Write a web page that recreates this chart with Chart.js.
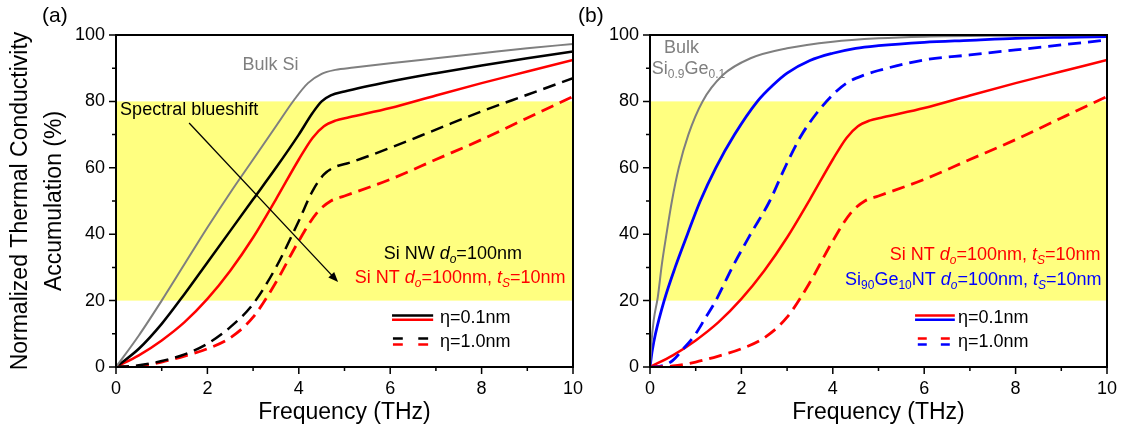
<!DOCTYPE html>
<html>
<head>
<meta charset="utf-8">
<script src="https://cdn.jsdelivr.net/npm/chart.js@4.4.0/dist/chart.umd.min.js"></script>
<style>
  body { margin: 0; background: #fff; width: 1131px; height: 431px; overflow: hidden; position: relative; }
  .panel { position: absolute; left: 0; top: 0; width: 1131px; height: 431px; }
</style>
</head>
<body>
<div class="panel"><canvas id="panelA"></canvas></div>
<div class="panel"><canvas id="panelB"></canvas></div>
<script>
// frequency (THz) / accumulated thermal conductivity (%)
const bulkSiFreq = [0, 0.5, 1, 1.5, 2, 2.5, 3, 3.5, 3.9, 4.2, 4.5, 4.8, 5.2, 6, 7, 8, 9, 10];
const bulkSiAcc  = [0, 9.5, 20, 31, 42, 52.5, 62.5, 72.5, 80.5, 85.5, 88.3, 89.5, 90.2, 91.5, 93, 94.5, 96, 97.3];

const nwFineFreq = [0, 0.5, 1, 1.5, 2, 2.5, 3, 3.5, 4, 4.3, 4.5, 4.7, 5, 6, 7, 8, 9, 10];
const nwFineAcc  = [0, 5.5, 13, 22, 31.5, 41, 50.5, 60, 70, 76.5, 80, 81.8, 83, 86, 88.5, 90.8, 93, 95];

const ntFineFreq = [0, 0.5, 1, 1.5, 2, 2.5, 3, 3.5, 4, 4.3, 4.55, 4.8, 5.1, 6, 7, 8, 9, 10];
const ntFineAcc  = [0, 3.5, 8, 13.5, 20.5, 29, 39, 50.5, 62.5, 69, 72.5, 74.2, 75.2, 78, 81.8, 85.5, 89, 92.5];

const nwRoughFreq = [0, 0.5, 1, 1.5, 2, 2.5, 3, 3.5, 4, 4.3, 4.55, 4.8, 5.1, 6, 7, 8, 9, 10];
const nwRoughAcc  = [0, 0.5, 1.8, 3.8, 7, 12, 19, 30, 44, 53, 58, 60.3, 61.5, 66, 71.5, 77, 82, 87];

const ntRoughFreq = [0, 0.5, 1, 1.5, 2, 2.5, 3, 3.5, 4, 4.4, 4.7, 5, 6, 7, 8, 9, 10];
const ntRoughAcc  = [0, 0.3, 1.5, 3.3, 5.5, 8.8, 15, 25.5, 38, 46.5, 50, 51.5, 56.5, 62.5, 68.5, 75, 81.5];

const bulkSiGeFreq = [0, 0.03, 0.08, 0.17, 0.26, 0.36, 0.48, 0.63, 0.84, 1.15, 1.6, 2.2, 3, 4, 5, 6, 8, 10];
const bulkSiGeAcc  = [0, 7, 14, 21, 31, 40, 50, 60, 70, 80, 88, 93, 96, 98, 99, 99.5, 99.8, 100];

const sigeFineFreq = [0, 0.05, 0.12, 0.31, 0.55, 0.82, 1.1, 1.44, 1.85, 2.35, 2.7, 3, 3.5, 4, 4.5, 5, 6, 7, 8, 9, 10];
const sigeFineAcc  = [0, 5, 10, 20, 30, 40, 50, 60, 70, 80, 85, 88.5, 92.3, 94.5, 96, 96.8, 97.8, 98.4, 99, 99.3, 99.5];

const sigeRoughFreq = [0, 0.3, 0.5, 0.7, 1, 1.2, 1.44, 1.8, 2.2, 2.62, 2.95, 3.3, 3.65, 4, 4.3, 4.7, 5, 6, 7, 8, 9, 10];
const sigeRoughAcc  = [0, 0.5, 2, 5, 10, 14.5, 20, 30, 40, 50, 60, 69.5, 76.5, 82, 85.5, 88, 89.3, 92.5, 94, 95.5, 97, 98.5];

const freqTicks = [0, 2, 4, 6, 8, 10];
const accTicks = [0, 20, 40, 60, 80, 100];
const bandLow = 20, bandHigh = 80;

const RED = '#ff0000', BLUE = '#0000ff', GRAY = '#7f7f7f', BLACK = '#000000';
const FONT = "'Liberation Sans', Arial, sans-serif";
Chart.defaults.font.family = FONT;
Chart.defaults.color = BLACK;

function pts(f, a) {
  return f.map((x, i) => ({ x: x, y: a[i] }));
}

function curve(f, a, color, width, dash) {
  return {
    data: pts(f, a),
    borderColor: color,
    borderWidth: width,
    borderDash: dash || [],
    pointRadius: 0,
    fill: false,
    cubicInterpolationMode: 'monotone'
  };
}

// draws a line of text made of plain / italic / subscript pieces
function drawRich(ctx, x, y, parts, align, color, size) {
  const pieces = parts.map(p => {
    const st = p[1] || '';
    const sub = st.indexOf('s') >= 0;
    const fs = sub ? Math.round(size * 0.66) : size;
    const font = (st.indexOf('i') >= 0 ? 'italic ' : '') + fs + 'px ' + FONT;
    ctx.font = font;
    return { text: p[0], font: font, dy: sub ? size * 0.3 : 0, w: ctx.measureText(p[0]).width };
  });
  const total = pieces.reduce((s, p) => s + p.w, 0);
  let cx = align === 'left' ? x : align === 'right' ? x - total : x - total / 2;
  ctx.fillStyle = color;
  ctx.textAlign = 'left';
  ctx.textBaseline = 'middle';
  pieces.forEach(p => {
    ctx.font = p.font;
    ctx.fillText(p.text, cx, y + p.dy);
    cx += p.w;
  });
}

const decor = {
  id: 'decor',
  beforeDatasetsDraw(chart, args, opts) {
    const { ctx, chartArea: a, scales: { y } } = chart;
    const top = y.getPixelForValue(bandHigh), bot = y.getPixelForValue(bandLow);
    ctx.save();
    ctx.fillStyle = '#ffff80';
    ctx.fillRect(a.left, top, a.right - a.left, bot - top);
    ctx.restore();
  },
  afterDatasetsDraw(chart, args, opts) {
    const { ctx, chartArea: a, scales: { x, y } } = chart;
    ctx.save();
    // frame
    ctx.strokeStyle = BLACK;
    ctx.lineWidth = 2;
    ctx.strokeRect(a.left, a.top, a.right - a.left, a.bottom - a.top);
    // outward ticks, majors labelled, minors in between
    ctx.lineWidth = 1.5;
    ctx.beginPath();
    for (let v = 0; v <= 10; v++) {
      const px = x.getPixelForValue(v);
      ctx.moveTo(px, a.bottom);
      ctx.lineTo(px, a.bottom + (v % 2 === 0 ? 7 : 4));
    }
    for (let v = 0; v <= 100; v += 10) {
      const py = y.getPixelForValue(v);
      ctx.moveTo(a.left, py);
      ctx.lineTo(a.left - (v % 20 === 0 ? 7 : 4), py);
    }
    ctx.stroke();

    // legend keys
    opts.keys.forEach(k => {
      const x0 = x.getPixelForValue(k.x0), x1 = x.getPixelForValue(k.x1);
      const py = y.getPixelForValue(k.y);
      const len = x1 - x0;
      ctx.strokeStyle = k.color;
      ctx.lineWidth = 2.5;
      ctx.setLineDash(k.dash ? [len * 0.28, len * 0.44] : []);
      ctx.beginPath();
      ctx.moveTo(x0, py);
      ctx.lineTo(x1, py);
      ctx.stroke();
    });
    ctx.setLineDash([]);

    // arrow
    if (opts.arrow) {
      const r = opts.arrow;
      const ax = x.getPixelForValue(r.x0), ay = y.getPixelForValue(r.y0);
      const bx = x.getPixelForValue(r.x1), by = y.getPixelForValue(r.y1);
      const ang = Math.atan2(by - ay, bx - ax);
      ctx.strokeStyle = BLACK;
      ctx.fillStyle = BLACK;
      ctx.lineWidth = 1.3;
      ctx.beginPath();
      ctx.moveTo(ax, ay);
      ctx.lineTo(bx - 6 * Math.cos(ang), by - 6 * Math.sin(ang));
      ctx.stroke();
      ctx.beginPath();
      ctx.moveTo(bx, by);
      ctx.lineTo(bx - 10 * Math.cos(ang) + 4 * Math.sin(ang), by - 10 * Math.sin(ang) - 4 * Math.cos(ang));
      ctx.lineTo(bx - 10 * Math.cos(ang) - 4 * Math.sin(ang), by - 10 * Math.sin(ang) + 4 * Math.cos(ang));
      ctx.closePath();
      ctx.fill();
    }

    // text notes
    opts.notes.forEach(n => {
      drawRich(ctx, x.getPixelForValue(n.x), y.getPixelForValue(n.y), n.parts, n.align, n.color, 18);
    });

    // panel letter
    ctx.font = '21px ' + FONT;
    ctx.fillStyle = BLACK;
    ctx.textAlign = 'left';
    ctx.textBaseline = 'middle';
    ctx.fillText(opts.letter, opts.letterX, 16);
    ctx.restore();
  }
};

function axes(yWidth, yTitle) {
  return {
    x: {
      type: 'linear', min: 0, max: 10,
      afterBuildTicks: s => { s.ticks = freqTicks.map(v => ({ value: v })); },
      afterFit: s => { s.height = 64; },
      ticks: { font: { size: 18 }, color: BLACK, padding: 4, maxRotation: 0 },
      grid: { drawOnChartArea: false, tickLength: 7, tickColor: 'rgba(0,0,0,0)', color: 'rgba(0,0,0,0)' },
      border: { display: false },
      title: { display: true, text: 'Frequency (THz)', color: BLACK, font: { size: 23 }, padding: { top: 0, bottom: 5 } }
    },
    y: {
      type: 'linear', min: 0, max: 100,
      afterBuildTicks: s => { s.ticks = accTicks.map(v => ({ value: v })); },
      afterFit: s => { s.width = yWidth; },
      ticks: { font: { size: 18 }, color: BLACK, padding: 4 },
      grid: { drawOnChartArea: false, tickLength: 7, tickColor: 'rgba(0,0,0,0)', color: 'rgba(0,0,0,0)' },
      border: { display: false },
      title: yTitle ? { display: true, text: yTitle, color: BLACK, font: { size: 23, lineHeight: 1.5 }, padding: { top: 3 } } : { display: false }
    }
  };
}

const DASH = [13, 7];

new Chart(document.getElementById('panelA'), {
  type: 'line',
  data: {
    datasets: [
      curve(bulkSiFreq, bulkSiAcc, GRAY, 2),
      curve(nwRoughFreq, nwRoughAcc, BLACK, 2.5, DASH),
      curve(ntRoughFreq, ntRoughAcc, RED, 2.8, DASH),
      curve(nwFineFreq, nwFineAcc, BLACK, 2.5),
      curve(ntFineFreq, ntFineAcc, RED, 2.5)
    ]
  },
  options: {
    responsive: true, maintainAspectRatio: false, animation: false, devicePixelRatio: 1,
    layout: { padding: { left: 0, right: 558, top: 35, bottom: 0 } },
    scales: axes(116, ['Normalized Thermal Conductivity', 'Accumulation (%)']),
    plugins: {
      legend: { display: false }, tooltip: { enabled: false },
      decor: {
        letter: '(a)', letterX: 42,
        arrow: { x0: 1.6, y0: 73.5, x1: 4.86, y1: 25.6 },
        keys: [
          { x0: 6.04, x1: 6.94, y: 15.5, color: BLACK },
          { x0: 6.04, x1: 6.94, y: 14.2, color: RED },
          { x0: 6.06, x1: 6.83, y: 8.6, color: BLACK, dash: true },
          { x0: 6.06, x1: 6.83, y: 6.8, color: RED, dash: true }
        ],
        notes: [
          { x: 3.38, y: 91.1, align: 'center', color: GRAY, parts: [['Bulk Si']] },
          { x: 0.09, y: 77.3, align: 'left', color: BLACK, parts: [['Spectral blueshift']] },
          { x: 7.37, y: 34.1, align: 'center', color: BLACK, parts: [['Si NW '], ['d', 'i'], ['o', 'is'], ['=100nm']] },
          { x: 7.53, y: 26.8, align: 'center', color: RED, parts: [['Si NT '], ['d', 'i'], ['o', 'is'], ['=100nm, '], ['t', 'i'], ['S', 'is'], ['=10nm']] },
          { x: 7.09, y: 14.8, align: 'left', color: BLACK, parts: [['\u03b7=0.1nm']] },
          { x: 7.09, y: 7.6, align: 'left', color: BLACK, parts: [['\u03b7=1.0nm']] }
        ]
      }
    }
  },
  plugins: [decor]
});

new Chart(document.getElementById('panelB'), {
  type: 'line',
  data: {
    datasets: [
      curve(bulkSiGeFreq, bulkSiGeAcc, GRAY, 2),
      curve(ntRoughFreq, ntRoughAcc, RED, 2.8, DASH),
      curve(sigeRoughFreq, sigeRoughAcc, BLUE, 2.8, DASH),
      curve(ntFineFreq, ntFineAcc, RED, 2.5),
      curve(sigeFineFreq, sigeFineAcc, BLUE, 2.8)
    ]
  },
  options: {
    responsive: true, maintainAspectRatio: false, animation: false, devicePixelRatio: 1,
    layout: { padding: { left: 576, right: 24, top: 35, bottom: 0 } },
    scales: axes(74, null),
    plugins: {
      legend: { display: false }, tooltip: { enabled: false },
      decor: {
        letter: '(b)', letterX: 578,
        keys: [
          { x0: 5.8, x1: 6.67, y: 15.5, color: RED },
          { x0: 5.8, x1: 6.67, y: 14.2, color: BLUE },
          { x0: 5.86, x1: 6.56, y: 8.6, color: RED, dash: true },
          { x0: 5.86, x1: 6.56, y: 6.8, color: BLUE, dash: true }
        ],
        notes: [
          { x: 0.69, y: 96.1, align: 'center', color: GRAY, parts: [['Bulk']] },
          { x: 0.04, y: 89.8, align: 'left', color: GRAY, parts: [['Si'], ['0.9', 's'], ['Ge'], ['0.1', 's']] },
          { x: 9.86, y: 33.8, align: 'right', color: RED, parts: [['Si NT '], ['d', 'i'], ['o', 'is'], ['=100nm, '], ['t', 'i'], ['S', 'is'], ['=10nm']] },
          { x: 9.88, y: 26.2, align: 'right', color: BLUE, parts: [['Si'], ['90', 's'], ['Ge'], ['10', 's'], ['NT '], ['d', 'i'], ['o', 'is'], ['=100nm, '], ['t', 'i'], ['S', 'is'], ['=10nm']] },
          { x: 6.74, y: 14.8, align: 'left', color: BLACK, parts: [['\u03b7=0.1nm']] },
          { x: 6.74, y: 7.6, align: 'left', color: BLACK, parts: [['\u03b7=1.0nm']] }
        ]
      }
    }
  },
  plugins: [decor]
});
</script>
</body>
</html>
